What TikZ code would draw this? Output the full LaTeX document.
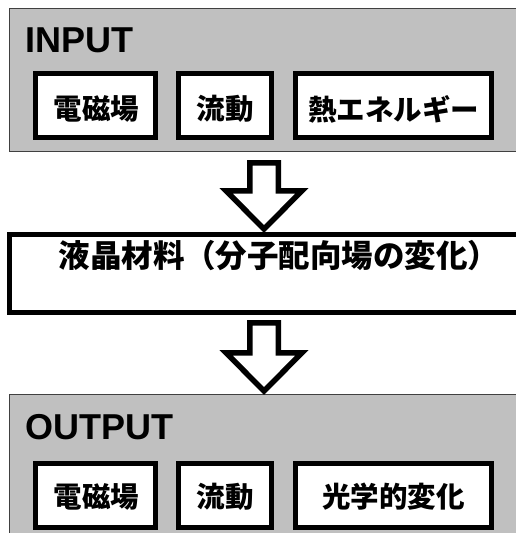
\documentclass[tikz,border=0pt]{standalone}
\usepackage{fontspec}
\setmainfont{Liberation Sans}
\newfontfamily\jp{Noto Sans CJK JP}
\usetikzlibrary{calc}
\definecolor{panelgray}{HTML}{C0C0C0}
\definecolor{panelline}{HTML}{404040}
\begin{document}
\begin{tikzpicture}[x=1pt,y=-1pt,
  panel/.style={draw=panelline, line width=1pt, fill=panelgray, anchor=north west, inner sep=0pt, outer sep=0pt},
  midbox/.style={draw=black, line width=5pt, fill=white, anchor=north west, inner sep=0pt, outer sep=0pt},
  item/.style={draw=black, line width=5pt, fill=white, inner sep=0pt, outer sep=0pt, minimum height=64pt},
  itemtext/.style={font=\jp\bfseries\fontsize{28.5}{30}\selectfont, inner sep=0pt},
  midtextstyle/.style={font=\jp\bfseries\fontsize{31.5}{34}\selectfont, inner sep=0pt},
  head/.style={font=\bfseries\fontsize{36}{40}\selectfont, anchor=base west, inner sep=0pt},
  blockarrow/.style={draw=black, line width=5.5pt, fill=white, line join=miter,
    to path={let \p1=(\tikztostart), \p2=(\tikztotarget) in
      (\x1-14.25pt,\y1) -- (\x1+14.25pt,\y1) -- (\x1+14.25pt,\y2+38.25pt) --
      (\x1+38pt,\y2+38.25pt) -- (\x1,\y2) -- (\x1-38pt,\y2+38.25pt) --
      (\x1-14.25pt,\y2+38.25pt) -- cycle}}
]
\useasboundingbox (0,0) rectangle (516,533);
\clip (0,0) rectangle (516,533);

% INPUT panel
\node[panel, minimum width=540pt, minimum height=142.5pt] (inp) at (9.5,8.5) {};
\node[head] (inptitle) at (25,52) {INPUT};
\node[item, minimum width=119.7pt] (i1) at (95.7,105.5) {};
\node[item, minimum width=93pt] (i2) at (225,105.5) {};
\node[item, minimum width=196pt] (i3) at (393.5,105.5) {};
\node[itemtext] (i1t) at (96.5,109) {電磁場};
\node[itemtext] (i2t) at (225,109) {流動};
\node[itemtext] (i3t) at (393.5,109) {熱エネルギー};

% middle box
\node[midbox, minimum width=540pt, minimum height=78pt] (mid) at (9.5,234.5) {};
\node[midtextstyle] (midt) at (279,256) {液晶材料（分子配向場の変化）};

% OUTPUT panel
\node[panel, minimum width=540pt, minimum height=160pt] (outp) at (9.5,394.5) {};
\node[head] (outtitle) at (25.5,439) {OUTPUT};
\node[item, minimum width=119.7pt] (o1) at (95.7,495.5) {};
\node[item, minimum width=93pt] (o2) at (225,495.5) {};
\node[item, minimum width=196pt] (o3) at (393.5,495.5) {};
\node[itemtext] (o1t) at (96.5,496.5) {電磁場};
\node[itemtext] (o2t) at (225,496.5) {流動};
\node[itemtext] (o3t) at (393.5,496.5) {光学的変化};

% block arrows
\coordinate (a1s) at (264,162.75);
\coordinate (a1e) at (264,229);
\coordinate (a2s) at (264,322.75);
\coordinate (a2e) at (264,391);
\draw[blockarrow] (a1s) to (a1e);
\draw[blockarrow] (a2s) to (a2e);
\end{tikzpicture}
\end{document}
